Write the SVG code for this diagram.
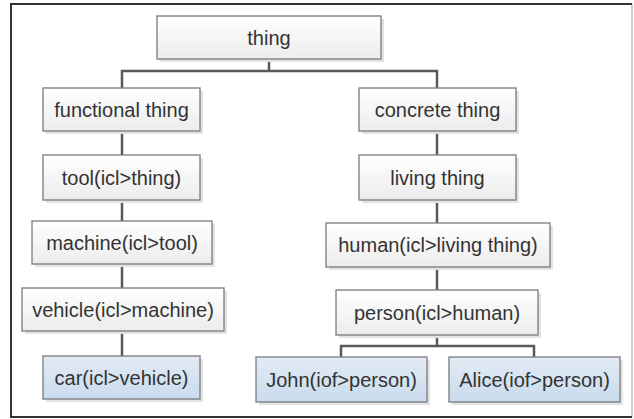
<svg xmlns="http://www.w3.org/2000/svg" width="634" height="419" viewBox="0 0 634 419">
<defs>
<linearGradient id="gw" x1="0" y1="0" x2="0" y2="1"><stop offset="0" stop-color="#ffffff"/><stop offset="1" stop-color="#ececec"/></linearGradient>
<linearGradient id="gb" x1="0" y1="0" x2="0" y2="1"><stop offset="0" stop-color="#e2ebf5"/><stop offset="1" stop-color="#c9dbed"/></linearGradient>
</defs>
<style>
.sh{fill:#e3e3e3;}
.bw{fill:url(#gw);stroke:#7a7a7a;stroke-width:1.3;}
.bb{fill:url(#gb);stroke:#7a7a7a;stroke-width:1.3;}
.t{font-family:"Liberation Sans",Arial,sans-serif;font-size:20px;fill:#333;text-anchor:middle;}
.c{fill:none;stroke:#595959;stroke-width:2.5;}
</style>
<rect x="0" y="0" width="634" height="419" fill="#fff"/>
<path d="M632,4 V417" stroke="#d0d0d0" stroke-width="2" fill="none"/>
<path d="M632,4 H11 V417 H632" stroke="#333" stroke-width="2" fill="none"/>
<g id="connectors">
<path class="c" d="M269,59 V71 M122,88 V71 H437 V88"/>
<path class="c" d="M122,131 V155 M122,200 V221 M122,264 V288 M122,331 V356"/>
<path class="c" d="M437,131 V155 M437,200 V223 M437,267 V290"/>
<path class="c" d="M437,335 V346 M341,357 V346 H534 V357"/>
</g>
<g id="thing"><rect class="sh" x="160" y="19" width="224" height="43"/><rect class="bw" x="157" y="16" width="224" height="43"/><text class="t" x="269" y="44.5">thing</text></g>
<g id="functional"><rect class="sh" x="46" y="91" width="157" height="43"/><rect class="bw" x="43" y="88" width="157" height="43"/><text class="t" x="121.5" y="116.5">functional thing</text></g>
<g id="tool"><rect class="sh" x="46" y="158" width="157" height="45"/><rect class="bw" x="43" y="155" width="157" height="45"/><text class="t" x="121.5" y="184.5">tool(icl&gt;thing)</text></g>
<g id="machine"><rect class="sh" x="35" y="224" width="180" height="43"/><rect class="bw" x="32" y="221" width="180" height="43"/><text class="t" x="122" y="249.5">machine(icl&gt;tool)</text></g>
<g id="vehicle"><rect class="sh" x="25" y="291" width="202" height="43"/><rect class="bw" x="22" y="288" width="202" height="43"/><text class="t" x="123" y="316.5">vehicle(icl&gt;machine)</text></g>
<g id="car"><rect class="sh" x="46" y="359" width="157" height="43"/><rect class="bb" x="43" y="356" width="157" height="43"/><text class="t" x="121.5" y="384.5">car(icl&gt;vehicle)</text></g>
<g id="concrete"><rect class="sh" x="362" y="91" width="157" height="43"/><rect class="bw" x="359" y="88" width="157" height="43"/><text class="t" x="437.5" y="116.5">concrete thing</text></g>
<g id="living"><rect class="sh" x="362" y="158" width="157" height="45"/><rect class="bw" x="359" y="155" width="157" height="45"/><text class="t" x="437.5" y="184.5">living thing</text></g>
<g id="human"><rect class="sh" x="329" y="226" width="224" height="44"/><rect class="bw" x="326" y="223" width="224" height="44"/><text class="t" x="438" y="251.5">human(icl&gt;living thing)</text></g>
<g id="person"><rect class="sh" x="339" y="293" width="202" height="45"/><rect class="bw" x="336" y="290" width="202" height="45"/><text class="t" x="437" y="319.5">person(icl&gt;human)</text></g>
<g id="john"><rect class="sh" x="259" y="360" width="171" height="45"/><rect class="bb" x="256" y="357" width="171" height="45"/><text class="t" x="341.5" y="386.5">John(iof&gt;person)</text></g>
<g id="alice"><rect class="sh" x="452" y="360" width="171" height="45"/><rect class="bb" x="449" y="357" width="171" height="45"/><text class="t" x="534.5" y="386.5">Alice(iof&gt;person)</text></g>
</svg>
